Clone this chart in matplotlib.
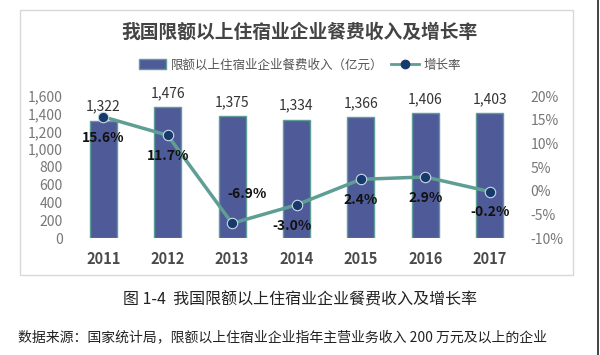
import matplotlib
matplotlib.use("Agg")
import matplotlib.pyplot as plt
from matplotlib.patches import Rectangle
from matplotlib.lines import Line2D
from matplotlib.ticker import FuncFormatter

plt.rcParams["font.family"] = ["Noto Sans CJK SC", "DejaVu Sans"]

years = ["2011", "2012", "2013", "2014", "2015", "2016", "2017"]
revenue = [1322, 1476, 1375, 1334, 1366, 1406, 1403]
growth = [15.6, 11.7, -6.9, -3.0, 2.4, 2.9, -0.2]

title = "我国限额以上住宿业企业餐费收入及增长率"
bar_label = "限额以上住宿业企业餐费收入（亿元）"
line_label = "增长率"
caption = "图 1-4  我国限额以上住宿业企业餐费收入及增长率"
source = "数据来源：国家统计局，限额以上住宿业企业指年主营业务收入 200 万元及以上的企业"

bar_color = "#4f5a98"
edge_color = "#5f9e94"
marker_color = "#163a6a"

fig = plt.figure(figsize=(6, 3.55), dpi=100)

# chart frame, kept behind the axes
frame = Rectangle((20 / 600, 80 / 355), 553 / 600, 265 / 355,
                  transform=fig.transFigure, facecolor="none",
                  edgecolor="#d8d8d8", linewidth=1.0, zorder=-1)
fig.add_artist(frame)
fig.add_artist(Line2D([597.5 / 600, 597.5 / 600], [0, 1], color="#222222",
                      linewidth=1.2, transform=fig.transFigure))

ax = fig.add_axes([71 / 600, 117 / 355, 451 / 600, 142 / 355])
x = range(len(years))
ax.bar(x, revenue, width=0.42, color=bar_color, edgecolor=edge_color,
       linewidth=1.0, zorder=2)
ax.set_xlim(-0.5, len(years) - 0.5)
ax.set_ylim(0, 1600)
ax.set_yticks(range(0, 1601, 200))
ax.yaxis.set_major_formatter(FuncFormatter(lambda v, p: f"{int(v):,}"))
ax.set_xticks(list(x))
ax.set_xticklabels(years, fontsize=10.5, fontweight="bold", color="#4a4a4a")
ax.tick_params(axis="y", length=0, labelsize=10, labelcolor="#777777", pad=6)
ax.tick_params(axis="x", length=0, pad=9)
for s in ax.spines.values():
    s.set_visible(False)
ax.patch.set_alpha(0)

for i, v in enumerate(revenue):
    ax.annotate(f"{v:,}", (i, v), xytext=(0, 5), textcoords="offset points",
                ha="center", va="bottom", fontsize=10, color="#333333")

ax2 = ax.twinx()
ax2.plot(x, growth, color=edge_color, linewidth=2.5, marker="o",
         markersize=7.5, markerfacecolor=marker_color,
         markeredgecolor="#c8d8e8", markeredgewidth=0.8, zorder=3)
ax2.set_ylim(-10, 20)
ax2.set_yticks(range(-10, 21, 5))
ax2.yaxis.set_major_formatter(FuncFormatter(lambda v, p: f"{int(v)}%"))
ax2.tick_params(axis="y", length=0, labelsize=10, labelcolor="#777777", pad=6)
for s in ax2.spines.values():
    s.set_visible(False)

offsets = [(0, -15), (0, -15), (11, 21), (-3, -15), (0, -15), (0, -15), (0, -15)]
for i, (v, off) in enumerate(zip(growth, offsets)):
    ax2.annotate(f"{v:.1f}%", (i, v), xytext=off, textcoords="offset points",
                 ha="center", va="center", fontsize=10, fontweight="bold",
                 color="#111111")

fig.text(0.5, 1 - 32 / 355, title, ha="center", va="center", fontsize=13.5,
         fontweight="bold", color="#444444")

handles = [Rectangle((0, 0), 1, 1, facecolor=bar_color, edgecolor=edge_color),
           Line2D([], [], color=edge_color, linewidth=2, marker="o",
                  markersize=6, markerfacecolor=marker_color,
                  markeredgecolor=marker_color)]
fig.legend(handles, [bar_label, line_label], loc="center",
           bbox_to_anchor=(0.5, 1 - 65 / 355), ncol=2, frameon=False,
           fontsize=9, labelcolor="#555555", handlelength=2.2,
           handleheight=0.8, columnspacing=0.6, handletextpad=0.4)

fig.text(0.5, 1 - 300 / 355, caption, ha="center", va="center", fontsize=11.5,
         color="#222222")
fig.text(18 / 600, 1 - 337 / 355, source, ha="left", va="center",
         fontsize=10, color="#222222")

fig.savefig("out.png", dpi=100, facecolor="white")
